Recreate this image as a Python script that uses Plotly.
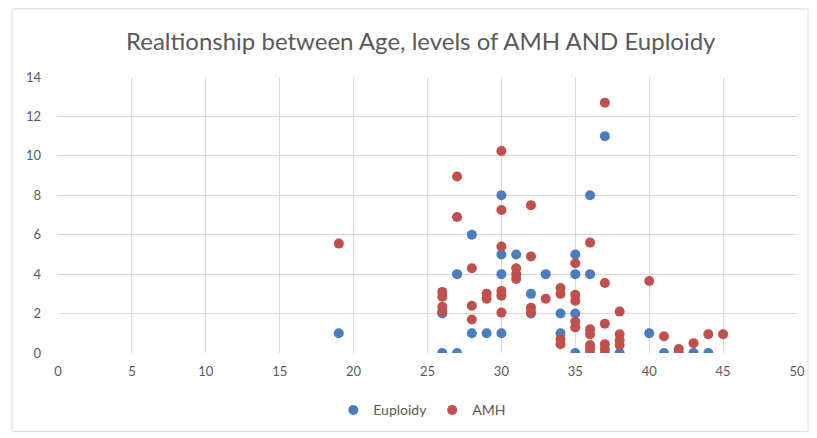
import plotly.graph_objects as go

# Euploidy count per patient, by age
euploidy_age = [19, 26, 26, 27, 27, 28, 28, 29, 30, 30, 30, 30, 31, 32, 32, 33,
                34, 34, 35, 35, 35, 35, 36, 36, 36, 37, 37, 38, 40, 41, 42, 43, 44]
euploidy_val = [1, 0, 2, 0, 4, 6, 1, 1, 8, 5, 4, 1, 5, 3, 2, 4,
                2, 1, 5, 4, 2, 0, 8, 4, 0, 11, 0, 0, 1, 0, 0, 0, 0]

# AMH level per patient, by age
amh_age = [19, 26, 26, 26, 26, 27, 27, 28, 28, 28, 29, 29, 30, 30, 30, 30, 30, 30,
           31, 31, 31, 32, 32, 32, 32, 33, 34, 34, 34, 34, 35, 35, 35, 35, 35,
           36, 36, 36, 36, 36, 37, 37, 37, 37, 37, 38, 38, 38, 38, 40, 41, 42, 43, 44, 45]
amh_val = [5.55, 3.1, 2.85, 2.35, 2.1, 8.95, 6.9, 4.3, 2.4, 1.7, 3.0, 2.75,
           10.25, 7.25, 5.4, 3.15, 2.9, 2.05, 4.3, 4.0, 3.75, 7.5, 4.9, 2.3, 2.05,
           2.75, 3.3, 3.0, 0.7, 0.45, 4.55, 2.95, 2.65, 1.6, 1.3,
           5.6, 1.2, 0.95, 0.4, 0.2, 12.7, 3.55, 1.48, 0.45, 0.2,
           2.1, 0.95, 0.65, 0.4, 3.65, 0.85, 0.2, 0.5, 0.95, 0.95]

x_ticks = [0, 5, 10, 15, 20, 25, 30, 35, 40, 45, 50]
y_ticks = [0, 2, 4, 6, 8, 10, 12, 14]

FONT = "Lato, Carlito, 'Open Sans', sans-serif"
TEXT = "#595959"
GRID = "#d9d9d9"

fig = go.Figure()
fig.add_trace(go.Scatter(
    x=euploidy_age, y=euploidy_val, mode="markers", name="Euploidy",
    marker=dict(color="#4A7CC0", size=10, line=dict(width=0)),
))
fig.add_trace(go.Scatter(
    x=amh_age, y=amh_val, mode="markers", name="AMH",
    marker=dict(color="#C0504D", size=10, line=dict(width=0)),
))

fig.update_layout(
    width=817, height=438,
    margin=dict(l=58, r=20, t=77, b=85),
    paper_bgcolor="white", plot_bgcolor="white",
    font=dict(family=FONT, color=TEXT, size=13),
    title=dict(
        text="Realtionship between Age, levels of AMH AND Euploidy",
        x=0.515, xanchor="center", y=1 - 42 / 438, yanchor="middle",
        font=dict(family=FONT, size=24, color=TEXT),
    ),
    xaxis=dict(
        range=[0, 50], tickvals=x_ticks, showgrid=True, gridcolor=GRID, gridwidth=1,
        zeroline=False, showline=False, ticks="", ticklen=0,
        ticklabelstandoff=9,
        tickfont=dict(size=13, color=TEXT),
    ),
    yaxis=dict(
        range=[0, 14], tickvals=y_ticks, showgrid=True, gridcolor=GRID, gridwidth=1,
        zeroline=False, showline=False, ticks="", ticklen=0,
        ticklabelstandoff=16,
        tickfont=dict(size=13, color=TEXT),
    ),
    legend=dict(
        orientation="h", x=0.493, xanchor="center", y=-0.208, yanchor="middle",
        font=dict(size=14, color=TEXT), itemwidth=30, tracegroupgap=0,
        bgcolor="rgba(0,0,0,0)",
    ),
    showlegend=True,
)

# Chart frame
fig.add_shape(
    type="rect", xref="paper", yref="paper",
    x0=-0.0622, x1=1.0149, y0=-0.284, y1=1.2467,
    line=dict(color=GRID, width=1), fillcolor="rgba(0,0,0,0)", layer="below",
)

fig.write_html("out.html")
